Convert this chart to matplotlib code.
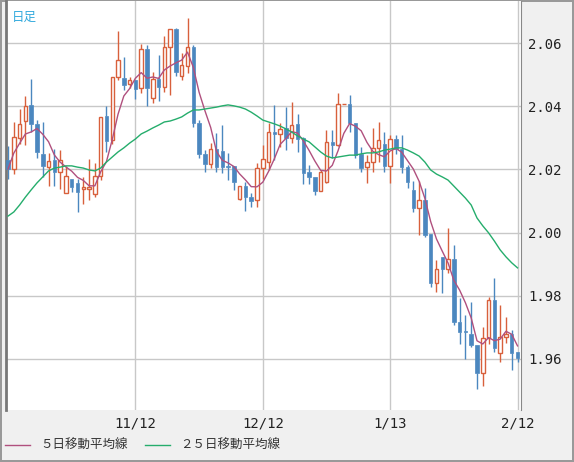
import numpy as np
import matplotlib
matplotlib.use("Agg")
from matplotlib import pyplot as plt
from matplotlib.patches import Rectangle

# daily OHLC
opens = [2.0230, 2.0201, 2.0299, 2.0353, 2.0404, 2.0344, 2.0249, 2.0207, 2.0230, 2.0192,
         2.0125, 2.0169, 2.0157, 2.0138, 2.0138, 2.0122, 2.0179, 2.0369, 2.0293, 2.0492,
         2.0489, 2.0470, 2.0483, 2.0458, 2.0581, 2.0426, 2.0486, 2.0461, 2.0587, 2.0644,
         2.0495, 2.0527, 2.0587, 2.0347, 2.0249, 2.0217, 2.0264, 2.0258, 2.0211, 2.0211,
         2.0106, 2.0147, 2.0112, 2.0103, 2.0204, 2.0223, 2.0318, 2.0312, 2.0331, 2.0299,
         2.0344, 2.0299, 2.0192, 2.0176, 2.0131, 2.0160, 2.0287, 2.0277, 2.0407, 2.0407,
         2.0347, 2.0249, 2.0207, 2.0223, 2.0268, 2.0280, 2.0211, 2.0296, 2.0264, 2.0207,
         2.0135, 2.0078, 2.0103, 1.9995, 1.9840, 1.9923, 1.9885, 1.9916, 1.9717, 1.9688,
         1.9679, 1.9644, 1.9555, 1.9666, 1.9787, 1.9619, 1.9669, 1.9679, 1.9622]
highs = [2.0274, 2.0350, 2.0391, 2.0432, 2.0486, 2.0356, 2.0350, 2.0252, 2.0264, 2.0261,
         2.0211, 2.0169, 2.0169, 2.0176, 2.0233, 2.0220, 2.0366, 2.0401, 2.0492, 2.0638,
         2.0556, 2.0492, 2.0483, 2.0597, 2.0594, 2.0508, 2.0562, 2.0622, 2.0644, 2.0647,
         2.0568, 2.0679, 2.0594, 2.0356, 2.0261, 2.0283, 2.0315, 2.0340, 2.0252, 2.0211,
         2.0147, 2.0160, 2.0125, 2.0220, 2.0277, 2.0347, 2.0404, 2.0347, 2.0397, 2.0413,
         2.0375, 2.0302, 2.0214, 2.0176, 2.0198, 2.0325, 2.0325, 2.0442, 2.0407, 2.0435,
         2.0347, 2.0271, 2.0245, 2.0331, 2.0350, 2.0318, 2.0309, 2.0309, 2.0309, 2.0214,
         2.0163, 2.0163, 2.0141, 1.9995, 1.9913, 1.9923, 2.0014, 1.9961, 1.9793, 1.9739,
         1.9780, 1.9644, 1.9701, 1.9796, 1.9856, 1.9771, 1.9733, 1.9692, 1.9622]
lows = [2.0169, 2.0185, 2.0280, 2.0277, 2.0318, 2.0236, 2.0176, 2.0147, 2.0147, 2.0138,
        2.0125, 2.0128, 2.0065, 2.0090, 2.0103, 2.0112, 2.0166, 2.0255, 2.0280, 2.0483,
        2.0451, 2.0458, 2.0423, 2.0442, 2.0401, 2.0410, 2.0416, 2.0445, 2.0435, 2.0495,
        2.0483, 2.0505, 2.0334, 2.0236, 2.0192, 2.0204, 2.0192, 2.0188, 2.0166, 2.0135,
        2.0103, 2.0068, 2.0081, 2.0081, 2.0169, 2.0198, 2.0230, 2.0271, 2.0261, 2.0283,
        2.0255, 2.0154, 2.0154, 2.0119, 2.0131, 2.0157, 2.0236, 2.0274, 2.0407, 2.0318,
        2.0236, 2.0192, 2.0157, 2.0192, 2.0223, 2.0192, 2.0157, 2.0249, 2.0188, 2.0141,
        2.0065, 1.9992, 1.9986, 1.9828, 1.9812, 1.9809, 1.9872, 1.9707, 1.9647, 1.9600,
        1.9638, 1.9505, 1.9514, 1.9647, 1.9622, 1.9590, 1.9650, 1.9565, 1.9590]
closes = [2.0201, 2.0302, 2.0344, 2.0401, 2.0344, 2.0255, 2.0211, 2.0226, 2.0192, 2.0230,
          2.0179, 2.0144, 2.0128, 2.0144, 2.0144, 2.0179, 2.0366, 2.0290, 2.0492, 2.0546,
          2.0467, 2.0483, 2.0454, 2.0581, 2.0458, 2.0486, 2.0461, 2.0587, 2.0644, 2.0508,
          2.0530, 2.0587, 2.0347, 2.0249, 2.0217, 2.0264, 2.0207, 2.0207, 2.0207, 2.0160,
          2.0147, 2.0112, 2.0100, 2.0204, 2.0233, 2.0318, 2.0312, 2.0328, 2.0299, 2.0340,
          2.0296, 2.0188, 2.0176, 2.0131, 2.0192, 2.0287, 2.0277, 2.0407, 2.0407, 2.0347,
          2.0245, 2.0204, 2.0223, 2.0268, 2.0293, 2.0211, 2.0296, 2.0264, 2.0207, 2.0160,
          2.0078, 2.0103, 1.9992, 1.9840, 1.9885, 1.9885, 1.9916, 1.9717, 1.9685, 1.9685,
          1.9644, 1.9555, 1.9666, 1.9787, 1.9635, 1.9669, 1.9679, 1.9619, 1.9603]
# 25-day moving average (needs history before the window)
ma25 = [2.0052, 2.0065, 2.0087, 2.0112, 2.0135, 2.0157, 2.0176, 2.0195, 2.0204, 2.0207,
        2.0211, 2.0211, 2.0207, 2.0204, 2.0198, 2.0195, 2.0204, 2.0223, 2.0239, 2.0255,
        2.0268, 2.0283, 2.0296, 2.0312, 2.0321, 2.0331, 2.0340, 2.0350, 2.0353, 2.0359,
        2.0366, 2.0378, 2.0388, 2.0388, 2.0391, 2.0394, 2.0397, 2.0401, 2.0404, 2.0401,
        2.0397, 2.0391, 2.0381, 2.0369, 2.0356, 2.0350, 2.0344, 2.0337, 2.0328, 2.0318,
        2.0306, 2.0296, 2.0287, 2.0271, 2.0255, 2.0242, 2.0236, 2.0239, 2.0242, 2.0245,
        2.0245, 2.0249, 2.0252, 2.0252, 2.0255, 2.0261, 2.0264, 2.0268, 2.0268, 2.0261,
        2.0252, 2.0242, 2.0223, 2.0198, 2.0185, 2.0176, 2.0166, 2.0147, 2.0128, 2.0109,
        2.0087, 2.0046, 2.0021, 1.9999, 1.9973, 1.9945, 1.9923, 1.9904, 1.9888]
tick_idx = [22, 44, 66, 88]
tick_labels = ["11/12", "12/12", "1/13", "2/12"]
y_ticks = [1.96, 1.98, 2.00, 2.02, 2.04, 2.06]

UP = "#d8603c"
DOWN = "#4b87bf"
MA5_COLOR = "#b0507e"
MA25_COLOR = "#25ad6c"
JP = ["Noto Sans CJK JP", "DejaVu Sans"]

c = np.array(closes)
ma5 = [c[max(0, i - 4):i + 1].mean() for i in range(len(c))]

fig = plt.figure(figsize=(5.74, 4.62), dpi=100)
fig.patch.set_facecolor("#f0f0f0")
fig.patch.set_edgecolor("#999999")
fig.patch.set_linewidth(1.5)
ax = fig.add_axes([6 / 574, 52 / 462, 515 / 574, 409 / 462])
ax.set_facecolor("white")

for x in tick_idx:
    ax.axvline(x, color="#c8c8c8", lw=1, zorder=0)
for y in y_ticks:
    ax.axhline(y, color="#c8c8c8", lw=1, zorder=0)

w = 0.6
for i, (o, h, l, cl) in enumerate(zip(opens, highs, lows, closes)):
    up = cl >= o
    col = UP if up else DOWN
    lo, hi = min(o, cl), max(o, cl)
    ax.vlines(i, l, lo, color=col, lw=1, zorder=2)
    ax.vlines(i, hi, h, color=col, lw=1, zorder=2)
    if up:
        ax.add_patch(Rectangle((i - w / 2, lo), w, max(hi - lo, 0.00005),
                               facecolor="white", edgecolor=col, lw=1, zorder=3))
    else:
        ax.add_patch(Rectangle((i - w / 2, lo), w, max(hi - lo, 0.0003),
                               facecolor=col, edgecolor=col, lw=0.5, zorder=3))

x = np.arange(len(closes))
ax.plot(x, ma5, color=MA5_COLOR, lw=1, zorder=4)
ax.plot(x, ma25, color=MA25_COLOR, lw=1, zorder=4)

ax.set_xlim(-0.35, 88.6)
ax.set_ylim(1.9438, 2.0733)
ax.set_xticks(tick_idx)
ax.set_xticklabels(tick_labels)
ax.set_yticks(y_ticks)
ax.set_yticklabels([f"{v:.2f}" for v in y_ticks])
ax.yaxis.tick_right()
ax.tick_params(length=0, labelsize=10, colors="#222222", pad=5)
for lab in ax.get_xticklabels() + ax.get_yticklabels():
    lab.set_fontfamily("DejaVu Sans Mono")
for side in ["top", "bottom"]:
    ax.spines[side].set_visible(False)
ax.spines["left"].set_color("#777777")
ax.spines["left"].set_linewidth(2)
ax.spines["right"].set_color("#888888")

ax.text(0.012, 0.975, "日足", transform=ax.transAxes, color="#33aadd",
        fontsize=9, va="top", family=JP)

# legend at bottom
ly = 1 - 445 / 462
fig.lines.append(plt.Line2D([5 / 574, 30 / 574], [ly, ly],
                            color=MA5_COLOR, lw=1, transform=fig.transFigure))
fig.text(40 / 574, ly, "５日移動平均線", fontsize=9, va="center",
         color="#333333", family=JP)
fig.lines.append(plt.Line2D([145 / 574, 170 / 574], [ly, ly],
                            color=MA25_COLOR, lw=1, transform=fig.transFigure))
fig.text(180 / 574, ly, "２５日移動平均線", fontsize=9, va="center",
         color="#333333", family=JP)

fig.savefig("out.png", dpi=100, facecolor=fig.get_facecolor(),
            edgecolor=fig.get_edgecolor())
